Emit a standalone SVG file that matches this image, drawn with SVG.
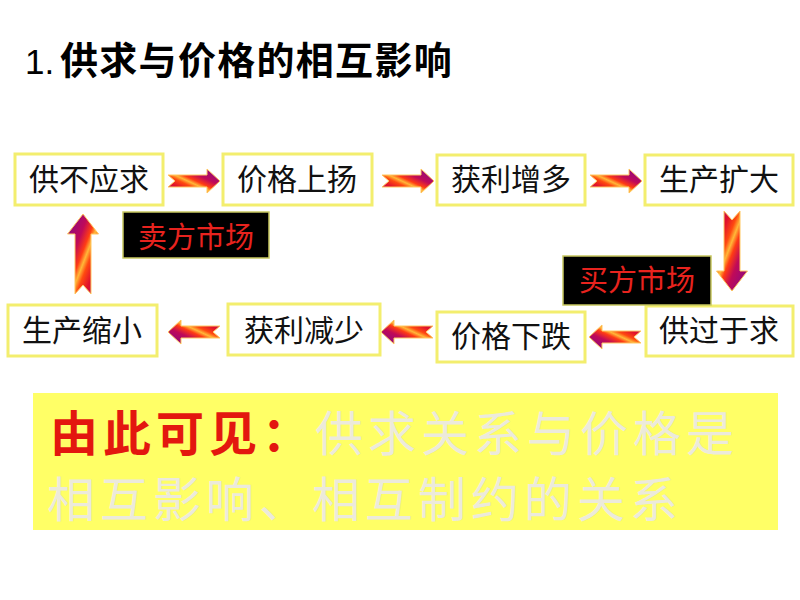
<svg xmlns="http://www.w3.org/2000/svg" xmlns:xlink="http://www.w3.org/1999/xlink" width="800" height="600" viewBox="0 0 800 600">
<style>
.box{fill:#ffffff;stroke:#f3ee6e;stroke-width:3}
.lbl{fill:#000000;stroke:#c8c860;stroke-width:1.5}
.t{font-family:"Liberation Sans","Noto Sans CJK SC",sans-serif;font-size:30px;fill:#111111;text-anchor:middle}
.r{font-family:"Liberation Sans","Noto Sans CJK SC",sans-serif;font-size:29px;fill:#e8231e;text-anchor:middle}
.arr{fill:url(#g);stroke:#ffc860;stroke-width:1}
</style>
<defs>
<linearGradient id="g" x1="0" y1="1" x2="1" y2="0">
<stop offset="0" stop-color="#a0107a"/>
<stop offset="0.22" stop-color="#e0102c"/>
<stop offset="0.36" stop-color="#ff4a10"/>
<stop offset="0.44" stop-color="#ffb838"/>
<stop offset="0.52" stop-color="#ff3c14"/>
<stop offset="0.66" stop-color="#c00a58"/>
<stop offset="1" stop-color="#7a0a90"/>
</linearGradient>
<path id="ha" class="arr" d="M0,-6 L39,-6 L39,-12 L52,0 L39,12 L39,6 L0,6 L7,0 Z"/>
<path id="va" class="arr" d="M0,-8 L60,-8 L60,-15.5 L80,0 L60,15.5 L60,8 L0,8 L9,0 Z"/>
</defs>
<rect width="800" height="600" fill="#ffffff"/>

<text x="25" y="74" font-family="Liberation Sans,Noto Sans CJK SC,sans-serif" font-size="35" fill="#000">1.<tspan x="60" font-size="38" font-weight="bold" letter-spacing="1.3">供求与价格的相互影响</tspan></text>

<g id="connectors">
<use xlink:href="#ha" transform="translate(168,181)"/>
<use xlink:href="#ha" transform="translate(382,181)"/>
<use xlink:href="#ha" transform="translate(590,181)"/>
<use xlink:href="#va" transform="translate(732,211) rotate(90)"/>
<use xlink:href="#ha" transform="translate(641,337) rotate(180)"/>
<use xlink:href="#ha" transform="translate(433,332) rotate(180)"/>
<use xlink:href="#ha" transform="translate(220,332) rotate(180)"/>
<use xlink:href="#va" transform="translate(83,294) rotate(-90)"/>
</g>

<g id="n1"><rect class="box" x="15" y="154" width="148" height="51"/><text class="t" x="89" y="190">供不应求</text></g>
<g id="n2"><rect class="box" x="223" y="154" width="149" height="51"/><text class="t" x="297" y="190">价格上扬</text></g>
<g id="n3"><rect class="box" x="437" y="155" width="148" height="50"/><text class="t" x="511" y="190">获利增多</text></g>
<g id="n4"><rect class="box" x="645" y="155" width="148" height="50"/><text class="t" x="719" y="190">生产扩大</text></g>
<g id="n5"><rect class="box" x="646" y="306" width="147" height="50"/><text class="t" x="719" y="341">供过于求</text></g>
<g id="n6"><rect class="box" x="437" y="312" width="148" height="50"/><text class="t" x="511" y="347">价格下跌</text></g>
<g id="n7"><rect class="box" x="228" y="304" width="152" height="51"/><text class="t" x="304" y="341">获利减少</text></g>
<g id="n8"><rect class="box" x="8" y="305" width="149" height="51"/><text class="t" x="82" y="341">生产缩小</text></g>

<g id="seller"><rect class="lbl" x="123" y="212" width="146" height="46"/><text class="r" x="196" y="248">卖方市场</text></g>
<g id="buyer"><rect class="lbl" x="563" y="256" width="148" height="49"/><text class="r" x="637" y="291">买方市场</text></g>

<g id="conclusion">
<rect x="33" y="393" width="745" height="137" fill="#ffff66"/>
<text font-family="Noto Sans CJK SC,sans-serif" font-size="48" letter-spacing="5"><tspan x="50" y="451" fill="#e3170f" font-weight="bold">由此可见：</tspan><tspan fill="#eceadb">供求关系与价格是</tspan><tspan x="47" y="517" fill="#eceadb">相互影响、相互制约的关系</tspan></text>
</g>
</svg>
